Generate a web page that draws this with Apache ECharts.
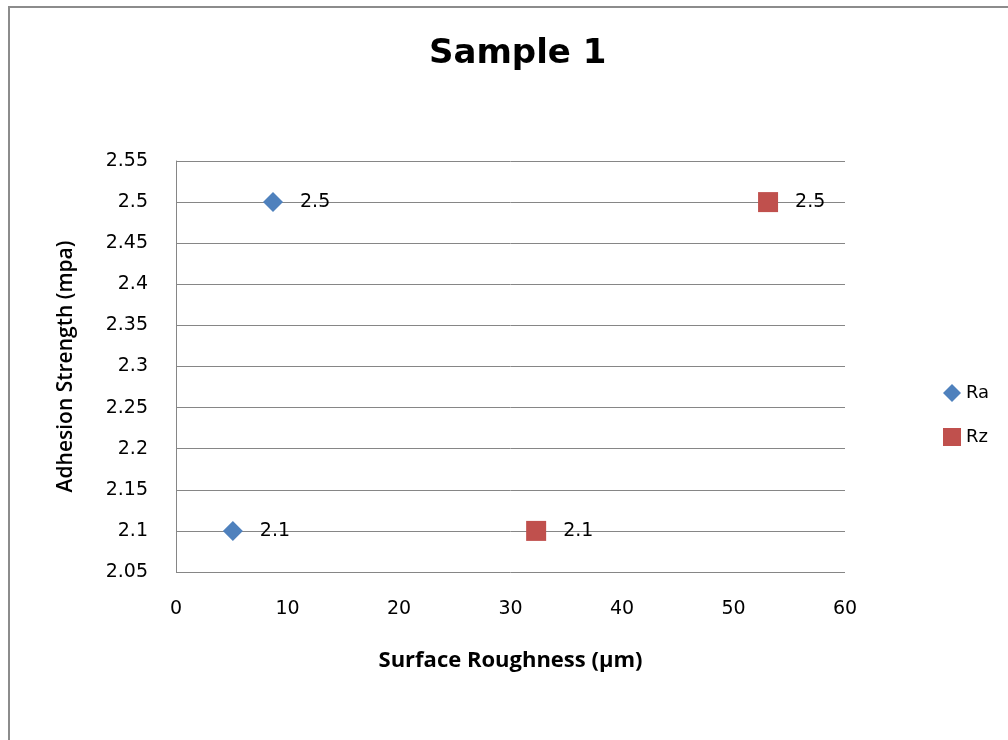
<!DOCTYPE html>
<html>
<head>
<meta charset="utf-8">
<script src="https://cdn.jsdelivr.net/npm/echarts@6/dist/echarts.min.js"></script>
<style>
  html, body { margin: 0; padding: 0; background: #fff; }
  #frame { position: absolute; left: 8px; top: 6px; width: 1000px; height: 734px;
           border-left: 2px solid #8c8c8c; border-top: 2px solid #8c8c8c; box-sizing: border-box; }
  #chart { position: absolute; left: 0; top: 0; width: 1008px; height: 740px; }
</style>
</head>
<body>
<div id="frame"></div>
<div id="chart"></div>
<script>
// Adhesion strength against surface roughness for Sample 1
const raRoughness = [5.1, 8.7];
const raStrength = [2.1, 2.5];
const rzRoughness = [32.3, 53.1];
const rzStrength = [2.1, 2.5];
const seriesNames = ['Ra', 'Rz'];

const TEXT_FONT = '"DejaVu Sans", sans-serif';
const NAME_FONT = '"Open Sans", "Noto Sans", sans-serif';
const diamond = 'path://M0,-1 L1,0 L0,1 L-1,0 Z';

const pairs = (xs, ys) => xs.map((x, i) => [x, ys[i]]);

const labelStyle = {
  show: true,
  position: 'right',
  distance: 17,
  color: '#000',
  fontSize: 19,
  fontFamily: TEXT_FONT,
  formatter: p => String(p.value[1])
};

const chart = echarts.init(document.getElementById('chart'), null, { renderer: 'canvas' });
chart.setOption({
  backgroundColor: 'transparent',
  animation: false,
  title: {
    text: 'Sample 1',
    left: 424,
    top: 32,
    textStyle: { fontFamily: TEXT_FONT, fontSize: 34, fontWeight: 'bold', color: '#000' }
  },
  grid: { left: 176, right: 163, top: 161, bottom: 168 },
  legend: {
    orient: 'vertical',
    left: 938,
    top: 379,
    itemGap: 26,
    itemWidth: 18,
    itemHeight: 18,
    textStyle: { fontFamily: TEXT_FONT, fontSize: 18, color: '#000' },
    data: [
      { name: seriesNames[0], icon: diamond },
      { name: seriesNames[1], icon: 'rect' }
    ]
  },
  xAxis: {
    type: 'value',
    min: 0, max: 60, interval: 10,
    name: 'Surface Roughness (μm)',
    nameLocation: 'middle',
    nameGap: 78,
    nameTextStyle: { fontFamily: NAME_FONT, fontSize: 22, fontWeight: 'bold', color: '#000' },
    axisLine: { show: false },
    axisTick: { show: false },
    splitLine: { show: false },
    axisLabel: { margin: 28, fontFamily: TEXT_FONT, fontSize: 19, color: '#000' }
  },
  yAxis: {
    type: 'value',
    min: 2.05, max: 2.55, interval: 0.05,
    name: 'Adhesion Strength (mpa)',
    nameLocation: 'middle',
    nameGap: 99,
    nameTextStyle: { fontFamily: NAME_FONT, fontSize: 21, fontWeight: 600, color: '#000' },
    axisLine: { show: true, lineStyle: { color: '#868686', width: 1 } },
    axisTick: { show: false },
    splitLine: { show: true, lineStyle: { color: '#868686', width: 1 } },
    axisLabel: {
      margin: 28, fontFamily: TEXT_FONT, fontSize: 19, color: '#000',
      formatter: v => String(Math.round(v * 100) / 100)
    }
  },
  series: [
    {
      name: seriesNames[0],
      type: 'scatter',
      symbol: diamond,
      symbolSize: 20,
      itemStyle: { color: '#4f81bd', opacity: 1 },
      label: labelStyle,
      data: pairs(raRoughness, raStrength)
    },
    {
      name: seriesNames[1],
      type: 'scatter',
      symbol: 'rect',
      symbolSize: 20,
      itemStyle: { color: '#c0504d', opacity: 1 },
      label: labelStyle,
      data: pairs(rzRoughness, rzStrength)
    }
  ]
});
</script>
</body>
</html>
